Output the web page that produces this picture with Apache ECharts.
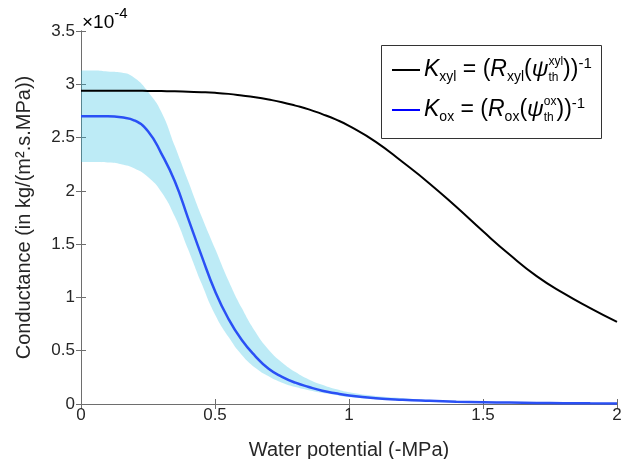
<!DOCTYPE html>
<html>
<head>
<meta charset="utf-8">
<script src="https://cdn.jsdelivr.net/npm/echarts@6/dist/echarts.min.js"></script>
<style>
  html, body { margin: 0; padding: 0; background: #fff; }
  #chart { width: 621px; height: 459px; }
</style>
</head>
<body>
<div id="chart"></div>
<script>
// water potential grid (-MPa)
const xs = [0, 0.05, 0.1, 0.15, 0.2, 0.25, 0.3, 0.35, 0.4, 0.45, 0.5, 0.55, 0.6, 0.65, 0.7, 0.75, 0.8, 0.85, 0.9, 0.95, 1.0,
  1.1, 1.2, 1.3, 1.4, 1.5, 1.6, 1.7, 1.8, 1.9, 2.0];

// conductances, in units of 1e-4
const kXyl = [2.94, 2.94, 2.94, 2.94, 2.94, 2.938, 2.936, 2.934, 2.93, 2.926, 2.92, 2.91, 2.895, 2.878, 2.857, 2.832, 2.80, 2.765, 2.72, 2.67, 2.61,
  2.46, 2.27, 2.07, 1.85, 1.62, 1.40, 1.20, 1.04, 0.90, 0.77];
const kOx = [2.70, 2.70, 2.70, 2.69, 2.66, 2.56, 2.35, 2.09, 1.74, 1.39, 1.06, 0.80, 0.60, 0.45, 0.33, 0.255, 0.20, 0.16, 0.125, 0.10, 0.08,
  0.055, 0.04, 0.03, 0.022, 0.017, 0.013, 0.01, 0.008, 0.006, 0.005];
const kOxUpper = [3.13, 3.13, 3.12, 3.11, 3.06, 2.93, 2.74, 2.42, 2.09, 1.76, 1.46, 1.16, 0.90, 0.68, 0.51, 0.39, 0.30, 0.23, 0.18, 0.14, 0.11,
  0.075, 0.055, 0.04, 0.03, 0.022, 0.017, 0.013, 0.01, 0.008, 0.006];
const kOxLower = [2.27, 2.27, 2.265, 2.25, 2.21, 2.13, 1.99, 1.76, 1.45, 1.13, 0.84, 0.63, 0.46, 0.34, 0.26, 0.20, 0.16, 0.13, 0.105, 0.085, 0.065,
  0.045, 0.033, 0.025, 0.019, 0.014, 0.011, 0.008, 0.006, 0.005, 0.004];

const xTicks = { min: 0, max: 2, interval: 0.5 };
const yTicks = { min: 0, max: 3.5, interval: 0.5 };

const FONT = 'Liberation Sans';
const AXIS_COLOR = '#6e6e6e';
const TEXT_COLOR = '#262626';

const pairs = (ys) => xs.map((x, i) => [x, ys[i]]);
// y first so the stack is done on the y dimension, matched by index
const stackPairs = (ys) => xs.map((x, i) => [ys[i], x]);
const bandWidth = kOxUpper.map((u, i) => u - kOxLower[i]);

const chart = echarts.init(document.getElementById('chart'));

function axisBase(show, margin) {
  return {
    type: 'value',
    axisLine: { show: true, lineStyle: { color: AXIS_COLOR, width: 1 } },
    axisTick: { show: true, inside: true, length: 5, lineStyle: { color: AXIS_COLOR } },
    axisLabel: { show: show, fontSize: 17, color: TEXT_COLOR, fontFamily: FONT, margin: margin },
    splitLine: { show: false }
  };
}

const legendRich = {
  K: { fontSize: 23, fontStyle: 'italic', fontFamily: FONT, color: '#111', lineHeight: 28 },
  n: { fontSize: 23, fontFamily: FONT, color: '#111', lineHeight: 28 },
  s: { fontSize: 14, fontFamily: FONT, color: '#111', verticalAlign: 'bottom', lineHeight: 15 },
  th: { fontSize: 12, fontFamily: FONT, color: '#111', verticalAlign: 'bottom', lineHeight: 15, width: 0.01 },
  sp: { fontSize: 12, fontFamily: FONT, color: '#111', verticalAlign: 'top', lineHeight: 13 },
  e: { fontSize: 15, fontFamily: FONT, color: '#111', verticalAlign: 'top', lineHeight: 11 }
};

const option = {
  animation: false,
  backgroundColor: '#fff',
  grid: { left: 81, right: 4, top: 31, bottom: 55, containLabel: false, outerBoundsMode: 'none' },
  xAxis: [
    Object.assign(axisBase(true, 3), xTicks, {
      position: 'bottom',
      name: 'Water potential (-MPa)',
      nameLocation: 'middle',
      nameGap: 36,
      nameTextStyle: { fontSize: 20, color: TEXT_COLOR, fontFamily: FONT }
    }),
    Object.assign(axisBase(false, 3), xTicks, { position: 'top' })
  ],
  yAxis: [
    Object.assign(axisBase(true, 6), yTicks, {
      position: 'left',
      name: 'Conductance (in kg/(m².s.MPa))',
      nameLocation: 'middle',
      nameGap: 47,
      nameTextStyle: { fontSize: 20, color: TEXT_COLOR, fontFamily: FONT }
    }),
    Object.assign(axisBase(false, 6), yTicks, { position: 'right' })
  ],
  series: [
    {
      name: 'Kxyl',
      type: 'line',
      data: pairs(kXyl),
      smooth: true,
      showSymbol: false,
      lineStyle: { color: '#000', width: 2 }
    },
    {
      name: 'bandLower',
      type: 'line',
      stack: 'band',
      data: stackPairs(kOxLower),
      encode: { x: 1, y: 0 },
      smooth: true,
      showSymbol: false,
      lineStyle: { opacity: 0 }
    },
    {
      name: 'band',
      type: 'line',
      stack: 'band',
      data: stackPairs(bandWidth),
      encode: { x: 1, y: 0 },
      smooth: true,
      showSymbol: false,
      lineStyle: { opacity: 0 },
      areaStyle: { color: 'rgba(38,188,225,0.3)', opacity: 1 }
    },
    {
      name: 'Kox',
      type: 'line',
      data: pairs(kOx),
      smooth: true,
      showSymbol: false,
      lineStyle: { color: '#2a50f5', width: 2.5 }
    }
  ],
  graphic: [
    {
      type: 'text', left: 82, top: 6,
      style: {
        text: '{a|×10}{b|-4}',
        rich: {
          a: { fontSize: 19, fontFamily: FONT, color: TEXT_COLOR, lineHeight: 26, verticalAlign: 'bottom' },
          b: { fontSize: 15, fontFamily: FONT, color: TEXT_COLOR, lineHeight: 14, verticalAlign: 'top' }
        }
      }
    },
    {
      type: 'rect', shape: { x: 381.5, y: 45.5, width: 220, height: 93 },
      style: { fill: '#fff', stroke: '#333', lineWidth: 1 }, z: 10
    },
    { type: 'line', shape: { x1: 392, y1: 70, x2: 420, y2: 70 }, style: { stroke: '#000', lineWidth: 2 }, z: 11 },
    { type: 'line', shape: { x1: 392, y1: 110, x2: 420, y2: 110 }, style: { stroke: '#0000ff', lineWidth: 2 }, z: 11 },
    {
      type: 'text', x: 424, y: 70, z: 11,
      style: {
        text: '{K|K}{s|xyl}{n| = (}{K|R}{s|xyl}{n|(}{K|ψ}{th|th}{sp|xyl}{n|))}{e|-1}',
        verticalAlign: 'middle',
        rich: legendRich
      }
    },
    {
      type: 'text', x: 424, y: 110, z: 11,
      style: {
        text: '{K|K}{s|ox}{n| = (}{K|R}{s|ox}{n|(}{K|ψ}{th|th}{sp|ox}{n|))}{e|-1}',
        verticalAlign: 'middle',
        rich: legendRich
      }
    }
  ]
};

chart.setOption(option);
</script>
</body>
</html>
